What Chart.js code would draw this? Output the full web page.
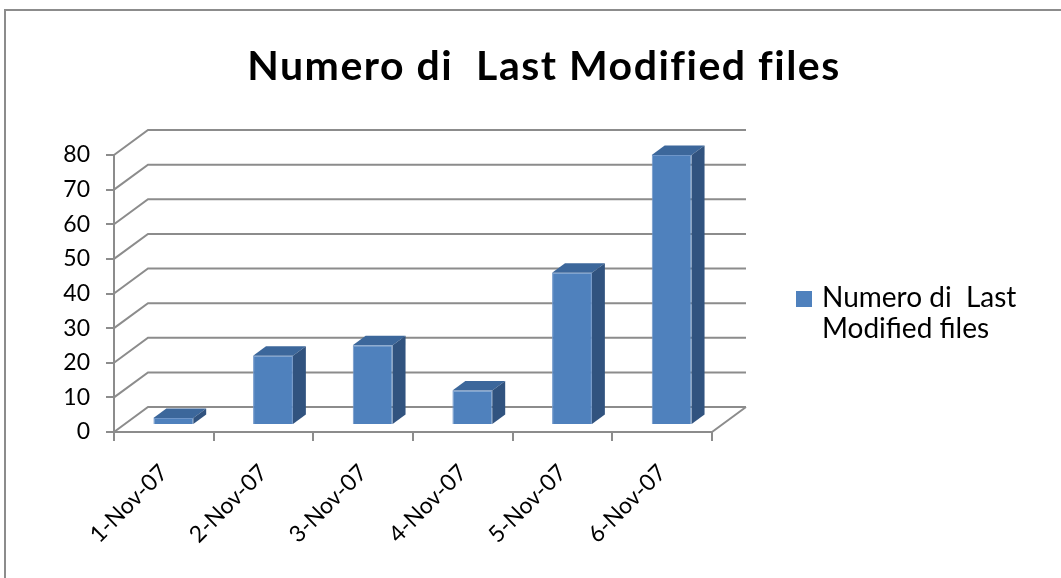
<!DOCTYPE html>
<html>
<head>
<meta charset="utf-8">
<title>Numero di Last Modified files</title>
<script src="https://cdn.jsdelivr.net/npm/chart.js@4.4.1/dist/chart.umd.min.js"></script>
<style>
  body { margin: 0; background: #fff; }
  #wrap { width: 1061px; height: 578px; }
</style>
</head>
<body>
<div id="wrap"><canvas id="barChart" width="1061" height="578"></canvas></div>
<script>
// data
const dates = ["1-Nov-07", "2-Nov-07", "3-Nov-07", "4-Nov-07", "5-Nov-07", "6-Nov-07"];
const fileCounts = [2, 20, 23, 10, 44, 78];
const yTicks = [0, 10, 20, 30, 40, 50, 60, 70, 80];
const seriesName = "Numero di  Last Modified files";
const legendLines = ["Numero di  Last", "Modified files"];

// fake 3d look
const DX = 34, DY = -25;       // depth of the back wall
const BAR_POS = 0.28;          // where the bar front sits in the depth
const BAR_DEPTH = 0.38;        // how deep each bar is
const gridColor = "#8c8c8c";
const barFront = "#4f81bd";
const barTop = "#3c679b";
const barSide = "#31537f";
const FONT = "Lato";

const wallPlugin = {
    id: "wall",
    beforeDraw(chart) {
        const ctx = chart.ctx;
        ctx.save();
        ctx.fillStyle = "#fff";
        ctx.fillRect(0, 0, chart.width, chart.height);
        ctx.strokeStyle = gridColor;
        ctx.lineWidth = 2;
        ctx.strokeRect(5, 10, chart.width + 20, chart.height + 20);
        ctx.restore();
    },
    beforeDatasetsDraw(chart) {
        const { ctx, chartArea: a, scales: { y } } = chart;
        ctx.save();
        ctx.strokeStyle = gridColor;
        ctx.lineWidth = 2;
        ctx.beginPath();
        y.ticks.forEach(t => {
            const py = y.getPixelForValue(t.value);
            ctx.moveTo(a.left, py);
            ctx.lineTo(a.left + DX, py + DY);
            ctx.lineTo(a.right + DX, py + DY);
        });
        // floor, right edge
        ctx.moveTo(a.right, a.bottom);
        ctx.lineTo(a.right + DX, a.bottom + DY);
        ctx.stroke();
        ctx.restore();
    },
    beforeDatasetDraw(chart) {
        chart.ctx.save();
        chart.ctx.translate(DX * BAR_POS, DY * BAR_POS);
    },
    afterDatasetDraw(chart, args) {
        const ctx = chart.ctx;
        const sx = DX * BAR_DEPTH, sy = DY * BAR_DEPTH;
        args.meta.data.forEach(bar => {
            const { x, y, base, width } = bar.getProps(["x", "y", "base", "width"], true);
            const l = x - width / 2, r = x + width / 2;
            ctx.fillStyle = barTop;
            ctx.beginPath();
            ctx.moveTo(l, y);
            ctx.lineTo(l + sx, y + sy);
            ctx.lineTo(r + sx, y + sy);
            ctx.lineTo(r, y);
            ctx.closePath();
            ctx.fill();
            ctx.fillStyle = barSide;
            ctx.beginPath();
            ctx.moveTo(r, y);
            ctx.lineTo(r + sx, y + sy);
            ctx.lineTo(r + sx, base + sy);
            ctx.lineTo(r, base);
            ctx.closePath();
            ctx.fill();
        });
        ctx.restore();
    },
    afterDraw(chart) {
        const ctx = chart.ctx;
        ctx.save();
        // title, centred on the whole picture
        ctx.fillStyle = "#000";
        ctx.font = "bold 41px " + FONT;
        ctx.letterSpacing = "1.5px";
        ctx.textAlign = "center";
        ctx.textBaseline = "alphabetic";
        ctx.fillText(seriesName, 544, 80);
        ctx.letterSpacing = "0px";
        // legend on the right, two lines
        ctx.textAlign = "left";
        ctx.fillStyle = barFront;
        ctx.fillRect(796, 291, 16, 16);
        ctx.fillStyle = "#000";
        ctx.font = "28px " + FONT;
        legendLines.forEach((line, i) => ctx.fillText(line, 822, 307 + i * 31));
        ctx.restore();
    }
};

new Chart(document.getElementById("barChart"), {
    type: "bar",
    data: {
        labels: dates,
        datasets: [{
            label: seriesName,
            data: fileCounts,
            backgroundColor: barFront,
            borderColor: "#6f96c9",
            borderWidth: 1,
            categoryPercentage: 1,
            barPercentage: 0.4,
            clip: false
        }]
    },
    options: {
        responsive: false,
        animation: false,
        layout: { padding: { top: 155, left: 0, right: 349, bottom: 0 } },
        plugins: {
            legend: { display: false },
            tooltip: { enabled: false },
            title: { display: false }
        },
        scales: {
            x: {
                grid: { drawOnChartArea: false, tickLength: 9, color: gridColor, lineWidth: 2, offset: true },
                border: { display: true, color: gridColor, width: 2 },
                ticks: {
                    color: "#000",
                    font: { family: FONT, size: 23 },
                    minRotation: 45,
                    maxRotation: 45,
                    autoSkip: false,
                    padding: 18
                },
                afterFit(scale) { scale.height = 146; }
            },
            y: {
                min: 0,
                max: 80,
                grid: { drawOnChartArea: false, tickLength: 8, color: gridColor, lineWidth: 2 },
                border: { display: true, color: gridColor, width: 2 },
                ticks: {
                    color: "#000",
                    font: { family: FONT, size: 23 },
                    padding: 16
                },
                afterBuildTicks(scale) { scale.ticks = yTicks.map(v => ({ value: v })); },
                afterFit(scale) { scale.width = 114; }
            }
        }
    },
    plugins: [wallPlugin]
});
</script>
</body>
</html>
